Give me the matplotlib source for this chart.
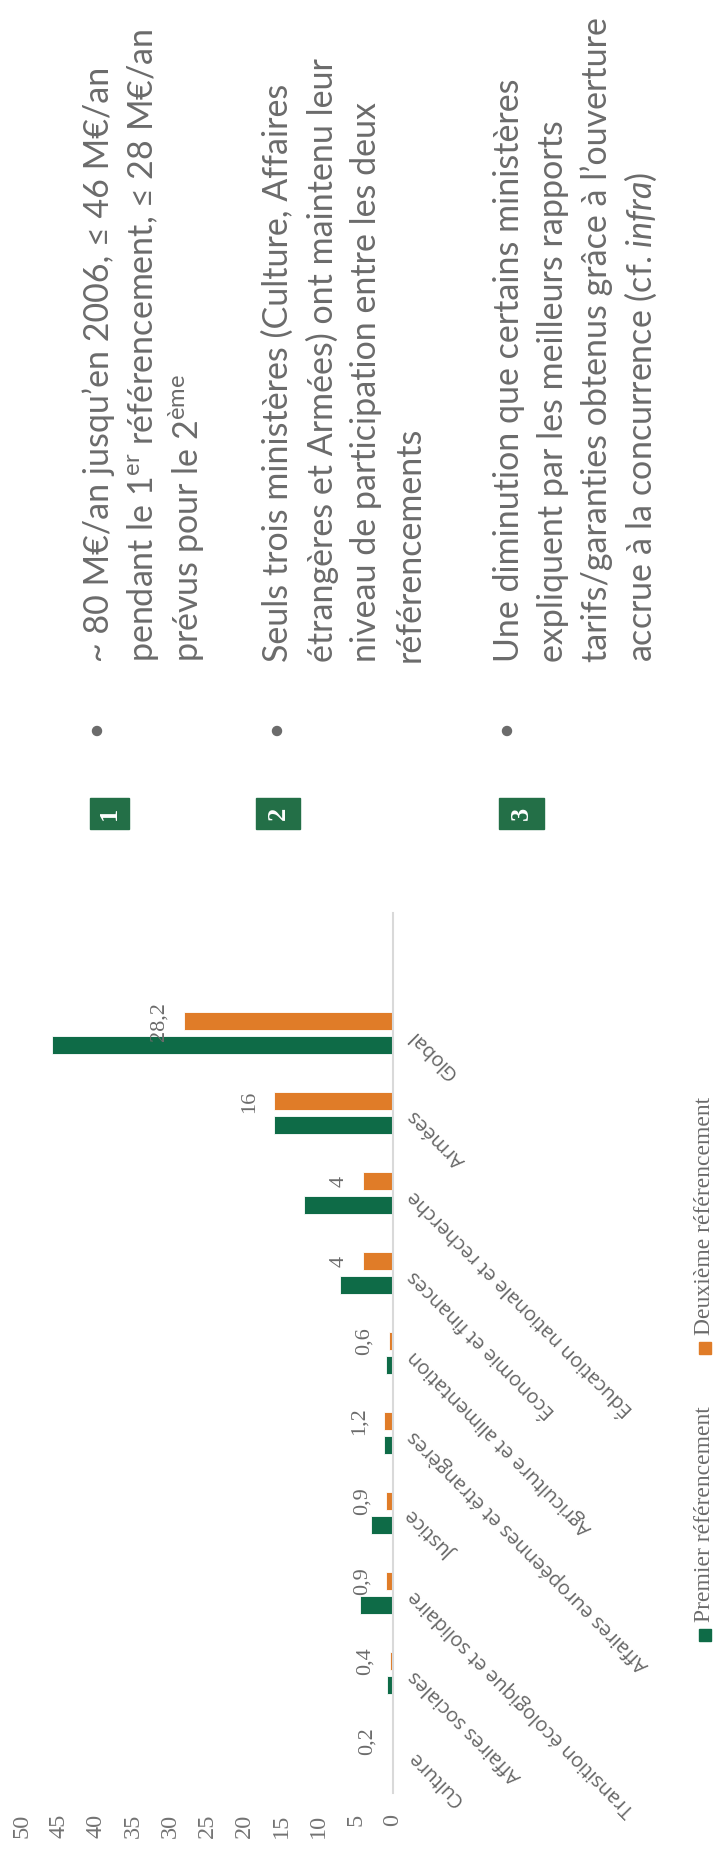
import matplotlib.pyplot as plt
from matplotlib.patches import Rectangle, Ellipse

# figure size in pixels (the whole slide is turned a quarter turn)
W, H = 715, 1852

categories = ["Culture", "Affaires sociales", "Transition écologique et solidaire", "Justice",
              "Affaires européennes et étrangères", "Agriculture et alimentation",
              "Économie et finances", "Éducation nationale et recherche", "Armées", "Global"]
premier = [0.2, 0.8, 4.5, 3.0, 1.2, 0.9, 7.2, 12.0, 16.0, 46.0]
deuxieme = [0.2, 0.4, 0.9, 0.9, 1.2, 0.6, 4.0, 4.0, 16.0, 28.2]
series_names = ["Premier référencement", "Deuxième référencement"]
ticks = list(range(0, 55, 5))

bullet1 = ["~ 80 M€/an jusqu’en 2006, ≤ 46 M€/an",
           r"pendant le 1$^{\mathrm{er}}$ référencement, ≤ 28 M€/an",
           r"prévus pour le 2$^{\mathrm{ème}}$"]
bullet2 = ["Seuls trois ministères (Culture, Affaires",
           "étrangères et Armées) ont maintenu leur",
           "niveau de participation entre les deux",
           "référencements"]
bullet3 = ["Une diminution que certains ministères",
           "expliquent par les meilleurs rapports",
           "tarifs/garanties obtenus grâce à l’ouverture",
           r"accrue à la concurrence (cf. $\mathit{infra}$)"]

green = "#0e6b47"
orange = "#e07c28"
box_green = "#236f47"
grey = "#6b6b6b"

plt.rcParams['mathtext.fontset'] = 'custom'
plt.rcParams['mathtext.rm'] = 'Lato'
plt.rcParams['mathtext.it'] = 'Lato:italic'


def fx(px):
    return px / W


def fy(py):
    return 1 - py / H


fig = plt.figure(figsize=(W / 100, H / 100), dpi=100)

# bar chart: value axis runs right-to-left, categories bottom-to-top
ax = fig.add_axes([fx(22), fy(1793), 371 / W, 880 / H])
pos = list(range(len(categories)))
off = 0.144
bh = 0.225
ax.barh([p - off for p in pos], premier, height=bh, color=green, edgecolor="white", linewidth=0.6)
ax.barh([p + off for p in pos], deuxieme, height=bh, color=orange, edgecolor="white", linewidth=0.6)
ax.set_xlim(50, 0)
ax.set_ylim(-0.5, 10.5)

for s in ["top", "left", "bottom"]:
    ax.spines[s].set_visible(False)
ax.spines["right"].set_color("#d9d9d9")
ax.spines["right"].set_linewidth(1.5)
ax.set_yticks([])
ax.set_xticks(ticks)
ax.set_xticklabels([str(t) for t in ticks], rotation=90, family="Liberation Serif",
                   fontsize=17.5, color="#737373")
ax.tick_params(axis="x", length=0, pad=15)

# value labels of the second series
for p, v in zip(pos, deuxieme):
    lab = f"{v:g}".replace(".", ",")
    ax.annotate(lab, (v, p + off), xytext=(-15, 0), textcoords="offset pixels",
                rotation=90, ha="right", va="center", family="Liberation Serif",
                fontsize=16, color=grey)

# category names, slanted
for p, c in zip(pos, categories):
    ax.text(1.05, p, c, transform=ax.get_yaxis_transform(), rotation=135,
            rotation_mode="anchor", ha="right", va="center", family="Open Sans",
            fontsize=14.5, color="#666666")

# legend, drawn turned like the rest
leg = [(series_names[0], green, 1635), (series_names[1], orange, 1348)]
for name, col, yc in leg:
    fig.add_artist(Rectangle((fx(699), fy(yc + 6)), 12 / W, 12 / H, color=col,
                             transform=fig.transFigure))
    fig.text(fx(705), fy(yc - 13), name, rotation=90, rotation_mode="anchor",
             ha="left", va="center", family="Liberation Serif", fontsize=17, color=grey)

# numbered boxes and bullet texts
boxes = [("1", 90, 129), ("2", 256, 300), ("3", 499, 544)]
for num, x0, x1 in boxes:
    fig.add_artist(Rectangle((fx(x0), fy(829)), (x1 - x0) / W, 31 / H, color=box_green,
                             transform=fig.transFigure))
    fig.text(fx((x0 + x1) / 2), fy(813.5), num, rotation=90, ha="center", va="center",
             color="white", fontsize=19, fontweight="bold", family="Liberation Serif")

blocks = [(bullet1, 97, 99), (bullet2, 277, 278), (bullet3, 507, 509)]
for lines, bx, x_first in blocks:
    fig.add_artist(Ellipse((fx(bx), fy(731)), 9 / W, 9 / H, color=grey,
                           transform=fig.transFigure))
    for k, line in enumerate(lines):
        fig.text(fx(x_first + 44 * k), fy(662), line, rotation=90, rotation_mode="anchor",
                 ha="left", va="center", family=["Lato", "DejaVu Sans"],
                 fontsize=24.5, color=grey)

fig.savefig("out.png", dpi=100)
